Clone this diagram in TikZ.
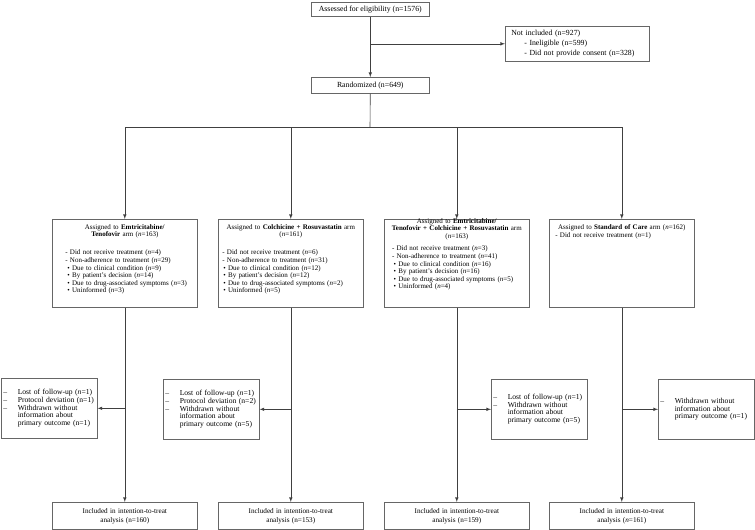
\documentclass[tikz,border=0pt]{standalone}
\usepackage{fontspec}
\setmainfont{Liberation Serif}
\usepackage{tikz}
\usetikzlibrary{positioning}
\newcommand{\hdr}[1]{\hfill#1\hfill\null}
\newcommand{\dashlead}{\makebox[14.5pt][l]{--}}
\newcommand{\dashpad}{\hspace*{14.5pt}}

\begin{document}
\begin{tikzpicture}[x=1pt,y=-1pt,
		box/.style = {draw=black!60, line width=0.6pt, anchor=north west},
		flowbox/.style = {box, minimum width=118, minimum height=14, inner sep=1pt, font=\fontsize{7.8}{10}\selectfont},
		exclbox/.style = {box, text width=132, inner xsep=6pt, minimum height=35, align=left, font=\fontsize{7.8}{10}\selectfont},
		armbox/.style = {box, text width=139, inner sep=3pt, align=left, font=\fontsize{7}{7.6}\selectfont},
		sidebox/.style = {box, text width=92, inner xsep=2pt, minimum height=60, align=left, font=\fontsize{7.6}{7.6}\selectfont},
		ittbox/.style = {box, text width=139, inner xsep=3pt, minimum height=27, align=center, font=\fontsize{7.2}{9}\selectfont},
		line/.style = {draw=black!75, line width=0.6pt},
		arrow/.style = {line, -latex}]
	\useasboundingbox (0,0) rectangle (755,530);

	% enrolment
	\node[flowbox] (assess) at (311,2) {Assessed for eligibility (n=1576)};
	\node[exclbox] (excl) at (505,26) {Not included (n=927)\\
		\hspace*{13pt}- Ineligible (n=599)\\
		\hspace*{13pt}- Did not provide consent (n=328)};
	\node[flowbox, minimum height=16] (rand) at (311,77) {Randomized (n=649)};
	\coordinate (split) at (370,127);

	% allocation
	\node[armbox, text height=7pt, text depth=75pt] (arm1) at (52,219) {%
		\hdr{Assigned to \textbf{Emtricitabine/}}\\
		\hdr{\textbf{Tenofovir} arm (\textit{n}=163)}\\[10.4pt]
		\hspace*{10pt}- Did not receive treatment (\textit{n}=4)\\
		\hspace*{10pt}- Non-adherence to treatment (\textit{n}=29)\\
		\hspace*{12pt}{\scriptsize\textbullet}\ Due to clinical condition (\textit{n}=9)\\
		\hspace*{12pt}{\scriptsize\textbullet}\ By patient's decision (\textit{n}=14)\\
		\hspace*{12pt}{\scriptsize\textbullet}\ Due to drug-associated symptoms (\textit{n}=3)\\
		\hspace*{12pt}{\scriptsize\textbullet}\ Uninformed (\textit{n}=3)};
	\node[armbox, text height=7pt, text depth=75pt] (arm2) at (218,219) {%
		\hdr{Assigned to \textbf{Colchicine + Rosuvastatin} arm}\\
		\hdr{(\textit{n}=161)}\\[10.4pt]
		\hspace*{1pt}- Did not receive treatment (\textit{n}=6)\\
		\hspace*{1pt}- Non-adherence to treatment (\textit{n}=31)\\
		\hspace*{2pt}{\scriptsize\textbullet}\ Due to clinical condition (\textit{n}=12)\\
		\hspace*{2pt}{\scriptsize\textbullet}\ By patient's decision (\textit{n}=12)\\
		\hspace*{2pt}{\scriptsize\textbullet}\ Due to drug-associated symptoms (\textit{n}=2)\\
		\hspace*{2pt}{\scriptsize\textbullet}\ Uninformed (\textit{n}=5)};
	\node[armbox, text height=1pt, text depth=81pt] (arm3) at (384,219) {%
		\hdr{Assigned to \textbf{Emtricitabine/}}\\
		\hdr{\textbf{Tenofovir + Colchicine + Rosuvastatin} arm}\\
		\hdr{(\textit{n}=163)}\\[4.8pt]
		\hspace*{4.7pt}- Did not receive treatment (\textit{n}=3)\\
		\hspace*{4.7pt}- Non-adherence to treatment (\textit{n}=41)\\
		\hspace*{6.3pt}{\scriptsize\textbullet}\ Due to clinical condition (\textit{n}=16)\\
		\hspace*{6.3pt}{\scriptsize\textbullet}\ By patient's decision (\textit{n}=16)\\
		\hspace*{6.3pt}{\scriptsize\textbullet}\ Due to drug-associated symptoms (\textit{n}=5)\\
		\hspace*{6.3pt}{\scriptsize\textbullet}\ Uninformed (\textit{n}=4)};
	\node[armbox, text height=7pt, text depth=75pt] (arm4) at (549,219) {%
		\hdr{Assigned to \textbf{Standard of Care} arm (\textit{n}=162)}\\[1pt]
		\hspace*{3pt}- Did not receive treatment (\textit{n}=1)};

	% follow-up
	\node[sidebox] (side1) at (1,378) {\dashlead Lost of follow-up (\textit{n}=1)\\
		\dashlead Protocol deviation (n=1)\\
		\dashlead Withdrawn without\\
		\dashpad information about\\
		\dashpad primary outcome (n=1)};
	\node[sidebox] (side2) at (163,379) {\dashlead Lost of follow-up (\textit{n}=1)\\
		\dashlead Protocol deviation (n=2)\\
		\dashlead Withdrawn without\\
		\dashpad information about\\
		\dashpad primary outcome (n=5)};
	\node[sidebox] (side3) at (491,379) {\dashlead Lost of follow-up (\textit{n}=1)\\
		\dashlead Withdrawn without\\
		\dashpad information about\\
		\dashpad primary outcome (n=5)};
	\node[sidebox] (side4) at (658,379) {\dashlead Withdrawn without\\
		\dashpad information about\\
		\dashpad primary outcome (\textit{n}=1)};

	% analysis
	\node[ittbox] (itt1) at (52,502) {Included in intention-to-treat\\ analysis (n=160)};
	\node[ittbox] (itt2) at (218,502) {Included in intention-to-treat\\ analysis (n=153)};
	\node[ittbox] (itt3) at (384,502) {Included in intention-to-treat\\ analysis (n=159)};
	\node[ittbox] (itt4) at (549,502) {Included in intention-to-treat\\ analysis (\textit{n}=161)};

	\draw[arrow] (assess.south) to (rand.north);
	\draw[arrow] (assess.south |- excl.west) to (excl.west);

	\draw[line] (rand.south) to (split);
	\draw[arrow] (split) -| (arm1.north);
	\draw[arrow] (split) -| (arm2.north);
	\draw[arrow] (split) -| (arm3.north);
	\draw[arrow] (split) -| (arm4.north);

	\draw[arrow] (arm1.south) to (itt1.north);
	\draw[arrow] (arm2.south) to (itt2.north);
	\draw[arrow] (arm3.south) to (itt3.north);
	\draw[arrow] (arm4.south) to (itt4.north);

	\draw[arrow] (arm1.south |- side1.east) to (side1.east);
	\draw[arrow] (arm2.south |- side2.east) to (side2.east);
	\draw[arrow] (arm3.south |- side3.west) to (side3.west);
	\draw[arrow] (arm4.south |- side4.west) to (side4.west);
\end{tikzpicture}
\end{document}
